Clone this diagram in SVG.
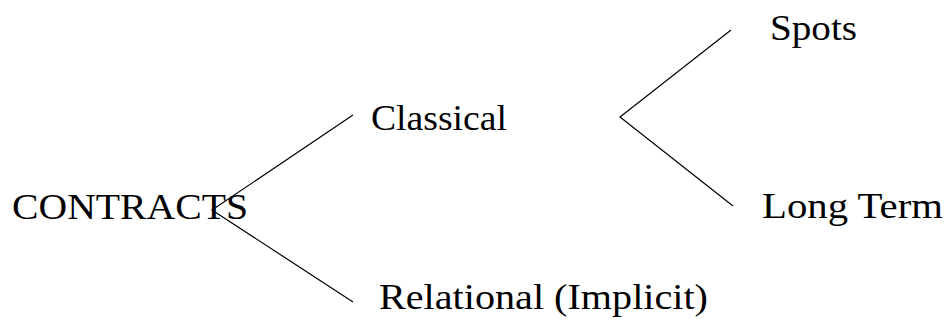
<svg xmlns="http://www.w3.org/2000/svg" width="948" height="320" viewBox="0 0 948 320">
<style>
text{font-family:"Liberation Serif","DejaVu Serif",serif;font-size:36px;fill:#000}
.c{stroke:#000;stroke-width:1.2;fill:none}
</style>
<rect width="948" height="320" fill="#fff"/>
<g id="n-contracts"><text x="12" y="219" textLength="236" lengthAdjust="spacingAndGlyphs">CONTRACTS</text></g>
<g id="n-classical"><text x="371" y="130" textLength="136" lengthAdjust="spacingAndGlyphs">Classical</text></g>
<g id="n-relational"><text x="379" y="309" textLength="329" lengthAdjust="spacingAndGlyphs">Relational (Implicit)</text></g>
<g id="n-spots"><text x="770" y="40" textLength="87" lengthAdjust="spacingAndGlyphs">Spots</text></g>
<g id="n-longterm"><text x="762" y="218" textLength="181" lengthAdjust="spacingAndGlyphs">Long Term</text></g>
<g id="connectors">
<polyline class="c" points="353,115 212,210 353,302"/>
<polyline class="c" points="731,30 620,117 733,206"/>
</g>
</svg>
